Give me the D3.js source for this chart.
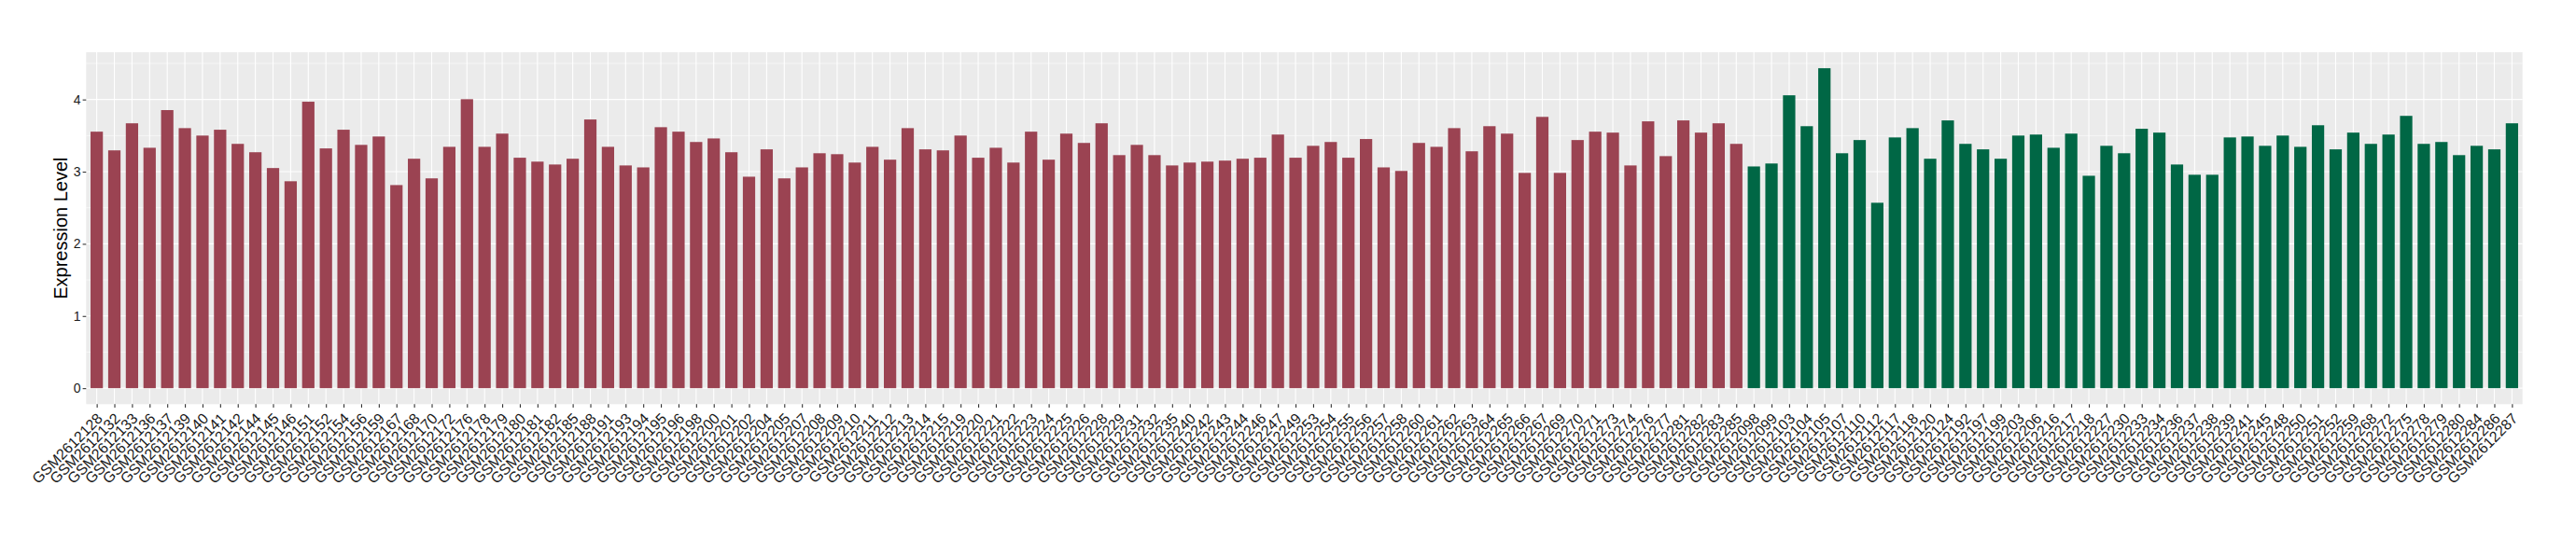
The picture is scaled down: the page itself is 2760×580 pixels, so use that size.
<!DOCTYPE html>
<html>
<head>
<meta charset="utf-8">
<script src="https://cdn.jsdelivr.net/npm/d3@7"></script>
<style>
  html, body { margin: 0; padding: 0; background: #ffffff; }
  svg { display: block; }
</style>
</head>
<body>
<svg id="chart" width="2760" height="580"></svg>
<script>
// ---- data ----
const normalSamples = ["GSM2612128","GSM2612132","GSM2612133","GSM2612136","GSM2612137","GSM2612139","GSM2612140","GSM2612141","GSM2612142","GSM2612144","GSM2612145","GSM2612146","GSM2612151","GSM2612152","GSM2612154","GSM2612156","GSM2612159","GSM2612167","GSM2612168","GSM2612170","GSM2612172","GSM2612176","GSM2612178","GSM2612179","GSM2612180","GSM2612181","GSM2612182","GSM2612185","GSM2612188","GSM2612191","GSM2612193","GSM2612194","GSM2612195","GSM2612196","GSM2612198","GSM2612200","GSM2612201","GSM2612202","GSM2612204","GSM2612205","GSM2612207","GSM2612208","GSM2612209","GSM2612210","GSM2612211","GSM2612212","GSM2612213","GSM2612214","GSM2612215","GSM2612219","GSM2612220","GSM2612221","GSM2612222","GSM2612223","GSM2612224","GSM2612225","GSM2612226","GSM2612228","GSM2612229","GSM2612231","GSM2612232","GSM2612235","GSM2612240","GSM2612242","GSM2612243","GSM2612244","GSM2612246","GSM2612247","GSM2612249","GSM2612253","GSM2612254","GSM2612255","GSM2612256","GSM2612257","GSM2612258","GSM2612260","GSM2612261","GSM2612262","GSM2612263","GSM2612264","GSM2612265","GSM2612266","GSM2612267","GSM2612269","GSM2612270","GSM2612271","GSM2612273","GSM2612274","GSM2612276","GSM2612277","GSM2612281","GSM2612282","GSM2612283","GSM2612285"];
const normalValues = [3.554,3.295,3.670,3.331,3.853,3.603,3.500,3.581,3.385,3.269,3.050,2.867,3.969,3.322,3.581,3.371,3.487,2.814,3.179,2.907,3.344,4.004,3.344,3.527,3.193,3.139,3.099,3.179,3.723,3.344,3.086,3.059,3.616,3.554,3.411,3.460,3.269,2.930,3.309,2.907,3.059,3.255,3.242,3.126,3.344,3.166,3.603,3.309,3.295,3.500,3.193,3.331,3.126,3.554,3.166,3.527,3.398,3.670,3.229,3.371,3.229,3.086,3.126,3.139,3.153,3.179,3.193,3.514,3.193,3.358,3.411,3.193,3.452,3.059,3.010,3.398,3.344,3.603,3.282,3.630,3.527,2.983,3.759,2.983,3.438,3.554,3.541,3.086,3.697,3.215,3.710,3.541,3.670,3.385];
const tumorSamples = ["GSM2612098","GSM2612099","GSM2612103","GSM2612104","GSM2612105","GSM2612107","GSM2612110","GSM2612112","GSM2612117","GSM2612118","GSM2612120","GSM2612124","GSM2612192","GSM2612197","GSM2612199","GSM2612203","GSM2612206","GSM2612216","GSM2612217","GSM2612218","GSM2612227","GSM2612230","GSM2612233","GSM2612234","GSM2612236","GSM2612237","GSM2612238","GSM2612239","GSM2612241","GSM2612245","GSM2612248","GSM2612250","GSM2612251","GSM2612252","GSM2612259","GSM2612268","GSM2612272","GSM2612275","GSM2612278","GSM2612279","GSM2612280","GSM2612284","GSM2612286","GSM2612287"];
const tumorValues = [3.072,3.113,4.058,3.630,4.433,3.255,3.438,2.569,3.474,3.603,3.179,3.710,3.385,3.309,3.179,3.500,3.514,3.331,3.527,2.943,3.358,3.255,3.594,3.541,3.099,2.957,2.957,3.474,3.487,3.358,3.500,3.344,3.643,3.309,3.541,3.385,3.514,3.773,3.385,3.411,3.229,3.358,3.309,3.670];
const groupNames = ["normal", "tumor"];
const groupColors = ["#9B4352", "#006745"];
const yTicks = [0, 1, 2, 3, 4];
const yMinorTicks = [0.5, 1.5, 2.5, 3.5, 4.5];
const yTitle = "Expression Level";

// ---- build rows ----
const rows = [];
normalSamples.forEach((s, i) => rows.push({ sample: s, value: normalValues[i], group: groupNames[0] }));
tumorSamples.forEach((s, i) => rows.push({ sample: s, value: tumorValues[i], group: groupNames[1] }));

// ---- layout ----
const panel = { left: 92.3, right: 2702.7, top: 56, bottom: 433.3 };
const svg = d3.select("#chart");
const font = "'Liberation Sans', Arial, Helvetica, sans-serif";

const n = rows.length;
const x = d3.scaleLinear().domain([-0.6, n - 1 + 0.6]).range([panel.left, panel.right]);
const step = x(1) - x(0);
const barW = step * 0.7;

const vmax = d3.max(rows, d => d.value);
const y = d3.scaleLinear().domain([-0.05 * vmax, vmax * 1.05]).range([panel.bottom, panel.top]);
const color = d3.scaleOrdinal().domain(groupNames).range(groupColors);

// panel background
svg.append("rect")
  .attr("x", panel.left).attr("y", panel.top)
  .attr("width", panel.right - panel.left).attr("height", panel.bottom - panel.top)
  .attr("fill", "#EBEBEB");

// minor gridlines
svg.append("g").selectAll("line").data(yMinorTicks.filter(t => y(t) > panel.top)).join("line")
  .attr("x1", panel.left).attr("x2", panel.right)
  .attr("y1", d => y(d)).attr("y2", d => y(d))
  .attr("stroke", "#ffffff").attr("stroke-width", 0.55);

// major gridlines
svg.append("g").selectAll("line").data(yTicks).join("line")
  .attr("x1", panel.left).attr("x2", panel.right)
  .attr("y1", d => y(d)).attr("y2", d => y(d))
  .attr("stroke", "#ffffff").attr("stroke-width", 1.1);

svg.append("g").selectAll("line").data(rows).join("line")
  .attr("x1", (d, i) => x(i)).attr("x2", (d, i) => x(i))
  .attr("y1", panel.top).attr("y2", panel.bottom)
  .attr("stroke", "#ffffff").attr("stroke-width", 1.1);

// bars
svg.append("g").selectAll("rect").data(rows).join("rect")
  .attr("x", (d, i) => x(i) - barW / 2)
  .attr("width", barW)
  .attr("y", d => y(d.value))
  .attr("height", d => y(0) - y(d.value))
  .attr("fill", d => color(d.group));

// y axis
const yAxis = d3.axisLeft(y).tickValues(yTicks).tickSize(3.7).tickPadding(2).tickFormat(d3.format("d"));
const gy = svg.append("g").attr("transform", `translate(${panel.left},0)`).call(yAxis);
gy.select(".domain").remove();
gy.selectAll(".tick line").attr("stroke", "#333333").attr("stroke-width", 1.1);
gy.selectAll(".tick text").attr("fill", "#1a1a1a").style("font-family", font).style("font-size", "14px");

// x axis
const xAxis = d3.axisBottom(x).tickValues(d3.range(n)).tickSize(3.7).tickFormat(i => rows[i].sample);
const gx = svg.append("g").attr("transform", `translate(0,${panel.bottom})`).call(xAxis);
gx.select(".domain").remove();
gx.selectAll(".tick line").attr("stroke", "#333333").attr("stroke-width", 1.1);
gx.selectAll(".tick text")
  .attr("fill", "#1a1a1a")
  .style("font-family", font).style("font-size", "16px")
  .attr("text-anchor", "end")
  .attr("x", 0).attr("y", 0).attr("dy", "0.71em")
  .attr("transform", "translate(-1.3,8.4) rotate(-45)");

// y title
svg.append("text")
  .attr("transform", `translate(71.6,${(panel.top + panel.bottom) / 2}) rotate(-90)`)
  .attr("text-anchor", "middle")
  .style("font-family", font).style("font-size", "20px")
  .attr("fill", "#000000")
  .text(yTitle);
</script>
</body>
</html>
